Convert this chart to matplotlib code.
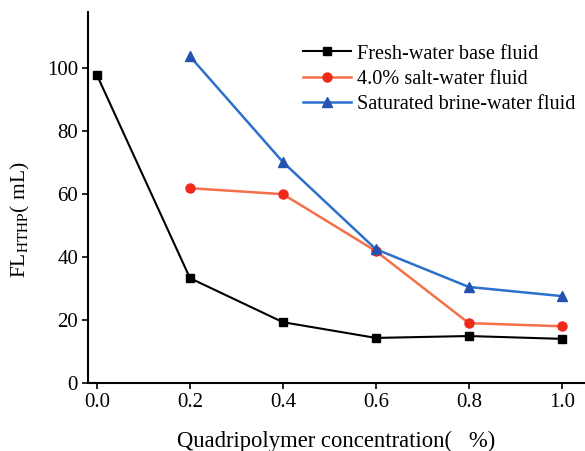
import numpy as np
import matplotlib
matplotlib.use("Agg")
import matplotlib.pyplot as plt

conc = [0.0, 0.2, 0.4, 0.6, 0.8, 1.0]
fresh = [97.8, 33.3, 19.3, 14.3, 14.9, 14.0]
salt_x = [0.2, 0.4, 0.6, 0.8, 1.0]
salt = [61.9, 60.0, 41.9, 19.0, 18.0]
brine_x = [0.2, 0.4, 0.6, 0.8, 1.0]
brine = [103.8, 70.2, 42.5, 30.5, 27.6]

plt.rcParams['font.family'] = ['Liberation Serif', 'DejaVu Serif']
plt.rcParams['mathtext.fontset'] = 'stix'

fig = plt.figure(figsize=(5.85, 4.51), dpi=100)
ax = fig.add_axes([0.150, 0.151, 0.85, 0.823])

ax.plot(conc, fresh, color='black', marker='s', ms=6, lw=1.5,
        label='Fresh-water base fluid')
ax.plot(salt_x, salt, color='#f4704a', marker='o', ms=6.5, mfc='#ee2a1a', mec='#ee2a1a',
        lw=1.8, label='4.0% salt-water fluid')
ax.plot(brine_x, brine, color='#2c6fcc', marker='^', ms=7, mfc='#2452b0', mec='#2452b0',
        lw=1.8, label='Saturated brine-water fluid')

ax.set_xlim(-0.02, 1.05)
ax.set_ylim(0, 118)
ax.set_xticks([0.0, 0.2, 0.4, 0.6, 0.8, 1.0])
ax.set_xticklabels(['0.0', '0.2', '0.4', '0.6', '0.8', '1.0'])
ax.set_yticks([0, 20, 40, 60, 80, 100])
ax.spines['top'].set_visible(False)
ax.spines['right'].set_visible(False)
ax.spines['left'].set_linewidth(1.5)
ax.spines['bottom'].set_linewidth(1.5)
ax.tick_params(labelsize=15, width=1.2, length=4, pad=3)

ax.set_xlabel('Quadripolymer concentration(   %)', fontsize=16.3)
ax.xaxis.set_label_coords(0.5, -0.128)
ax.set_ylabel(r'FL$_{\mathrm{HTHP}}$( mL)', fontsize=15.5)
ax.yaxis.set_label_coords(-0.113, 0.44)

ax.legend(loc='upper left', bbox_to_anchor=(0.408, 0.945), frameon=False, fontsize=14.6,
          handlelength=2.4, handletextpad=0.25, labelspacing=0.3, borderaxespad=0.2)

fig.savefig('out.png', dpi=100)
